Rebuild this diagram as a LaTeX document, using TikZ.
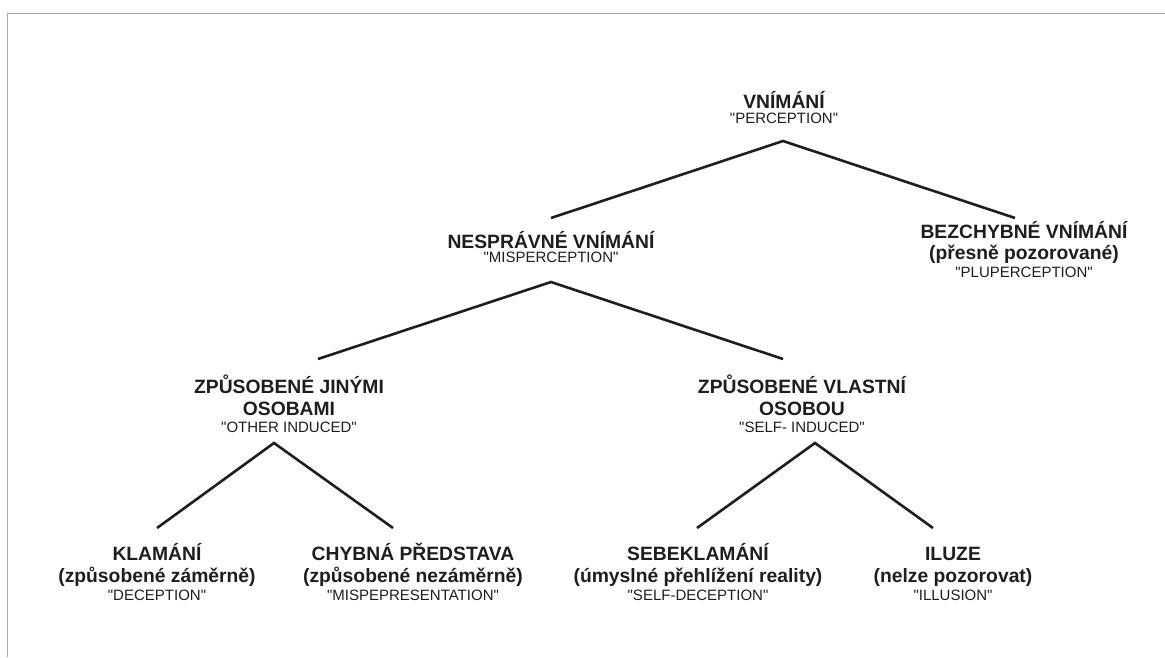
\documentclass[tikz,border=0pt]{standalone}
\usepackage{fontspec}
\setmainfont{Liberation Sans}[Ligatures=TeXOff]
\begin{document}
\begin{tikzpicture}[x=1pt,y=-1pt,
  label/.style={align=center,anchor=base,inner sep=0pt,text=ink,
    font=\fontsize{19.3}{22}\selectfont\bfseries},
  branch/.style={line width=2.6pt,draw=ink,line join=miter},
  frame/.style={line width=1.4pt,draw=framegray}]
\definecolor{ink}{HTML}{1E1E1E}
\definecolor{framegray}{HTML}{A6A6A6}
\newcommand{\eng}[1]{{\fontsize{15}{17}\mdseries\selectfont #1}}
\useasboundingbox (0,0) rectangle (1165,657);
\fill[white] (0,0) rectangle (1165,657);
% page edge
\draw[frame] (7.5,657) -- (7.5,13.5) -- (1165,13.5);

% categories (positioned by the baseline of the last line)
\node[label] (perc) at (784,123) {VNÍMÁNÍ\\[-7pt]\eng{"PERCEPTION"}};
\node[label] (plup) at (1024,277) {BEZCHYBNÉ VNÍMÁNÍ\\[-1pt](přesně pozorované)\\[-4pt]\eng{"PLUPERCEPTION"}};
\node[label] (misp) at (551,262) {NESPRÁVNÉ VNÍMÁNÍ\\[-8pt]\eng{"MISPERCEPTION"}};
\node[label] (other) at (289,432) {ZPŮSOBENÉ JINÝMI\\OSOBAMI\\[-5pt]\eng{"OTHER INDUCED"}};
\node[label] (self) at (802,432) {ZPŮSOBENÉ VLASTNÍ\\OSOBOU\\[-5pt]\eng{"SELF- INDUCED"}};
\node[label] (decep) at (157,600) {KLAMÁNÍ\\(způsobené záměrně)\\[-4pt]\eng{"DECEPTION"}};
\node[label] (mispres) at (413,600) {CHYBNÁ PŘEDSTAVA\\(způsobené nezáměrně)\\[-4pt]\eng{"MISPEPRESENTATION"}};
\node[label] (selfdec) at (698,600) {SEBEKLAMÁNÍ\\(úmyslné přehlížení reality)\\[-4pt]\eng{"SELF-DECEPTION"}};
\node[label] (illus) at (953,600) {ILUZE\\(nelze pozorovat)\\[-4pt]\eng{"ILLUSION"}};

% branch points and ends
\coordinate (perc-top) at (783,141);
\coordinate (perc-l) at (551,218);
\coordinate (perc-r) at (1015,218);
\coordinate (misp-top) at (551,282);
\coordinate (misp-l) at (318,359);
\coordinate (misp-r) at (783,359);
\coordinate (other-top) at (274,443);
\coordinate (other-l) at (157,528);
\coordinate (other-r) at (393,528);
\coordinate (self-top) at (815,443);
\coordinate (self-l) at (697,528);
\coordinate (self-r) at (933,528);

\draw[branch] (perc-l) -- (perc-top) -- (perc-r);
\draw[branch] (misp-l) -- (misp-top) -- (misp-r);
\draw[branch] (other-l) -- (other-top) -- (other-r);
\draw[branch] (self-l) -- (self-top) -- (self-r);
\end{tikzpicture}
\end{document}
